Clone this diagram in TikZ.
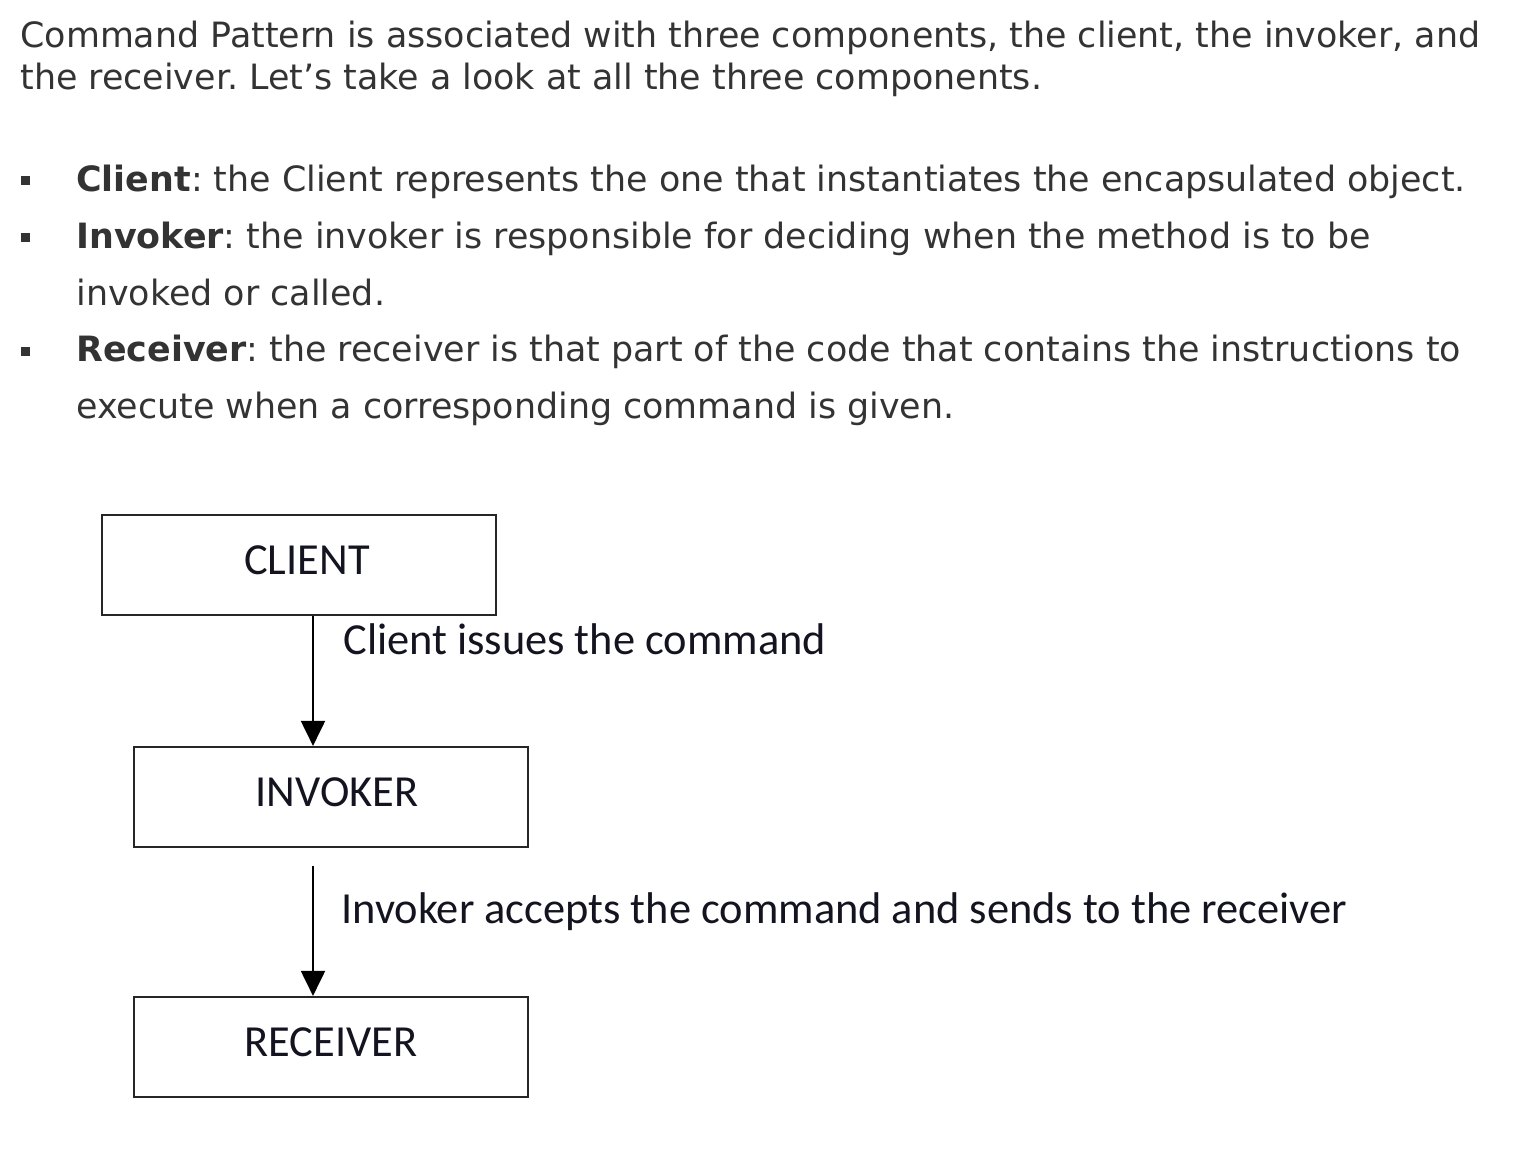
\documentclass[tikz,border=0pt]{standalone}
\usepackage{fontspec}
\setmainfont{DejaVu Sans}
\newfontfamily\calfont{Carlito}
\usetikzlibrary{arrows.meta,calc}
\definecolor{txt}{HTML}{333333}
\definecolor{lbl}{HTML}{141420}
\definecolor{boxc}{HTML}{262626}
\frenchspacing
\begin{document}
\frenchspacing
\begin{tikzpicture}[x=0.5pt,y=-0.5pt,
  para/.style={anchor=base west, inner sep=0pt, text=txt, font=\fontsize{17.43}{20}\selectfont\frenchspacing},
  blt/.style={fill=txt},
  box/.style={draw=boxc, line width=1.1pt, minimum width=197pt, minimum height=50pt, inner sep=0pt,
    text depth=5pt, text=lbl, font=\calfont\fontsize{22.2}{26}\selectfont},
  lab/.style={anchor=base west, inner sep=0pt, text=lbl, font=\calfont\fontsize{22.2}{26}\selectfont},
  arr/.style={-{Triangle[length=12.5pt,width=12pt]}, line width=1pt, draw=black}]
\useasboundingbox[fill=white] (0,0) rectangle (1520,1148);

% paragraph
\node[para] (p1) at (20,47) {Command Pattern is associated with three components, the client, the invoker, and};
\node[para] (p2) at (20,89) {the receiver. Let’s take a look at all the three components.};

\fill[blt] (21,176) rectangle (30,185);
\node[para] (b1) at (76,191) {\textbf{Client}: the Client represents the one that instantiates the encapsulated object.};
\fill[blt] (21,233) rectangle (30,242);
\node[para] (b2) at (76,248) {\textbf{Invoker}: the invoker is responsible for deciding when the method is to be};
\node[para] (b2b) at (76,305) {invoked or called.};
\fill[blt] (21,347) rectangle (30,356);
\node[para] (b3) at (76,361) {\textbf{Receiver}: the receiver is that part of the code that contains the instructions to};
\node[para] (b3b) at (76,418) {execute when a corresponding command is given.};

% diagram
\node[box] (client) at (299,565) {\hspace*{8pt}CLIENT};
\node[box] (invoker) at (331,797) {\hspace*{6pt}INVOKER};
\node[box] (receiver) at (331,1047) {RECEIVER};

\coordinate (ax) at (313,0);
\draw[arr] (ax |- client.south) -- (ax |- invoker.north);
\draw[arr] ($(ax |- invoker.south)+(0,18)$) -- (ax |- receiver.north);

\node[lab] (l1) at (343,654) {Client issues the command};
\node[lab] (l2) at (341,923) {Invoker accepts the command and sends to the receiver};
\end{tikzpicture}
\end{document}
